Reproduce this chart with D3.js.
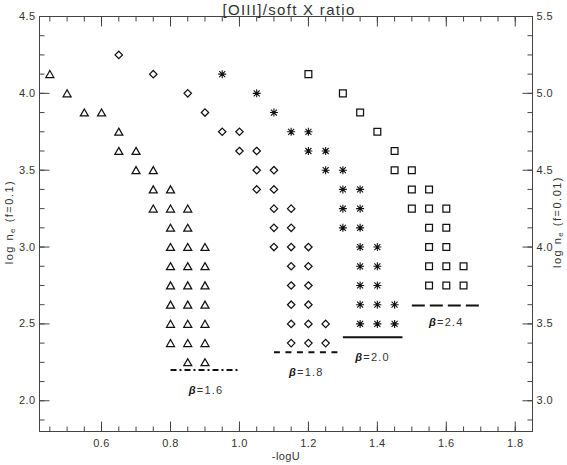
<!DOCTYPE html>
<html><head><meta charset="utf-8">
<script src="https://cdn.jsdelivr.net/npm/d3@7"></script>
<style>
html,body{margin:0;padding:0;background:#fff;}
svg{display:block;}
</style></head><body>
<svg id="chart" width="567" height="465"></svg>
<script>
// ---------------- data ----------------
const xDomain = [0.42, 1.85];
const yDomain = [1.8, 4.5];
const y2Domain = [2.8, 5.5];
const xMajorTicks = [0.6, 0.8, 1.0, 1.2, 1.4, 1.6, 1.8];
const yMajorTicks = [2.0, 2.5, 3.0, 3.5, 4.0, 4.5];
const y2MajorTicks = [3.0, 3.5, 4.0, 4.5, 5.0, 5.5];

const titleText = "[OIII]/soft X ratio";
const xLabel = "-logU";

// rows: [log n_e, [ -logU values ]]
const beta16 = [
  [4.125, [0.45]], [4.0, [0.5]], [3.875, [0.55, 0.6]], [3.75, [0.65]],
  [3.625, [0.65, 0.7]], [3.5, [0.7, 0.75]], [3.375, [0.75, 0.8]],
  [3.25, [0.75, 0.8, 0.85]], [3.125, [0.8, 0.85]], [3.0, [0.8, 0.85, 0.9]],
  [2.875, [0.8, 0.85, 0.9]], [2.75, [0.8, 0.85, 0.9]], [2.625, [0.8, 0.85, 0.9]],
  [2.5, [0.8, 0.85, 0.9]], [2.375, [0.8, 0.85, 0.9]], [2.25, [0.85, 0.9]]
];
const beta18 = [
  [4.25, [0.65]], [4.125, [0.75]], [4.0, [0.85]], [3.875, [0.9]],
  [3.75, [0.95, 1.0]], [3.625, [1.0, 1.05]], [3.5, [1.05, 1.1]], [3.375, [1.05, 1.1]],
  [3.25, [1.1, 1.15]], [3.125, [1.1, 1.15]], [3.0, [1.1, 1.15, 1.2]],
  [2.875, [1.15, 1.2]], [2.75, [1.15, 1.2]], [2.625, [1.15, 1.2]],
  [2.5, [1.15, 1.2, 1.25]], [2.375, [1.15, 1.2, 1.25]]
];
const beta20 = [
  [4.125, [0.95]], [4.0, [1.05]], [3.875, [1.1]], [3.75, [1.15, 1.2]],
  [3.625, [1.2, 1.25]], [3.5, [1.25, 1.3]], [3.375, [1.3, 1.35]], [3.25, [1.3, 1.35]],
  [3.125, [1.3, 1.35]], [3.0, [1.35, 1.4]], [2.875, [1.35, 1.4]], [2.75, [1.35, 1.4]],
  [2.625, [1.35, 1.4, 1.45]], [2.5, [1.35, 1.4, 1.45]]
];
const beta24 = [
  [4.125, [1.2]], [4.0, [1.3]], [3.875, [1.35]], [3.75, [1.4]], [3.625, [1.45]],
  [3.5, [1.45, 1.5]], [3.375, [1.5, 1.55]], [3.25, [1.5, 1.55, 1.6]],
  [3.125, [1.55, 1.6]], [3.0, [1.55, 1.6]], [2.875, [1.55, 1.6, 1.65]],
  [2.75, [1.55, 1.6, 1.65]]
];

const betaNames = ["1.6", "1.8", "2.0", "2.4"];
const lineX0 = [0.8, 1.1, 1.3, 1.5];
const lineX1 = [1.0, 1.3, 1.473, 1.7];
const lineY = [2.2, 2.316, 2.413, 2.62];
const labelX = [0.903, 1.194, 1.386, 1.6];
const labelY = [2.047, 2.162, 2.258, 2.487];

// ---------------- drawing ----------------
const svg = d3.select("#chart");
const L = 39.5, R = 532.5, T = 16.5, B = 431.5;
const FONT = "'Liberation Sans', Arial, sans-serif";

const x = d3.scaleLinear().domain(xDomain).range([L, R]);
const y = d3.scaleLinear().domain(yDomain).range([B, T]);
const y2 = d3.scaleLinear().domain(y2Domain).range([B, T]);

const xMinor = d3.range(0.45, 1.851, 0.05).map(v => +v.toFixed(2));
const yMinor = d3.range(1.875, 4.51, 0.125);
const y2Minor = d3.range(2.875, 5.51, 0.125);

function styleAxis(g) {
  g.select(".domain").attr("stroke", "#444").attr("stroke-width", 1);
  g.selectAll(".tick line").attr("stroke", "#444").attr("stroke-width", 1);
  g.selectAll(".tick text").attr("fill", "#333").style("font-family", FONT)
    .style("font-size", "11px").style("letter-spacing", "0.4px");
}

// bottom
svg.append("g").attr("transform", `translate(0,${B})`)
  .call(d3.axisBottom(x).tickValues(xMinor).tickSize(-5).tickSizeOuter(0).tickFormat("").offset(0))
  .call(styleAxis);
svg.append("g").attr("transform", `translate(0,${B})`)
  .call(d3.axisBottom(x).tickValues(xMajorTicks).tickSize(-10).tickSizeOuter(0).tickPadding(8)
    .tickFormat(d3.format(".1f")).offset(0))
  .call(styleAxis);
// top
svg.append("g").attr("transform", `translate(0,${T})`)
  .call(d3.axisTop(x).tickValues(xMinor).tickSize(-5).tickSizeOuter(0).tickFormat("").offset(0))
  .call(styleAxis);
svg.append("g").attr("transform", `translate(0,${T})`)
  .call(d3.axisTop(x).tickValues(xMajorTicks).tickSize(-10).tickSizeOuter(0).tickFormat("").offset(0))
  .call(styleAxis);
// left
svg.append("g").attr("transform", `translate(${L},0)`)
  .call(d3.axisLeft(y).tickValues(yMinor).tickSize(-5).tickSizeOuter(0).tickFormat("").offset(0))
  .call(styleAxis);
svg.append("g").attr("transform", `translate(${L},0)`)
  .call(d3.axisLeft(y).tickValues(yMajorTicks).tickSize(-10).tickSizeOuter(0).tickPadding(4)
    .tickFormat(d3.format(".1f")).offset(0))
  .call(styleAxis);
// right
svg.append("g").attr("transform", `translate(${R},0)`)
  .call(d3.axisRight(y2).tickValues(y2Minor).tickSize(-5).tickSizeOuter(0).tickFormat("").offset(0))
  .call(styleAxis);
svg.append("g").attr("transform", `translate(${R},0)`)
  .call(d3.axisRight(y2).tickValues(y2MajorTicks).tickSize(-10).tickSizeOuter(0).tickPadding(4)
    .tickFormat(d3.format(".1f")).offset(0))
  .call(styleAxis);

// title
svg.append("text").attr("x", 289).attr("y", 14.5).attr("text-anchor", "middle")
  .attr("fill", "#333").style("font-family", FONT).style("font-size", "15px")
  .style("letter-spacing", "1.3px").text(titleText);

// x label
svg.append("text").attr("x", (L + R) / 2).attr("y", 459.5).attr("text-anchor", "middle")
  .attr("fill", "#333").style("font-family", FONT).style("font-size", "11px")
  .style("letter-spacing", "0.4px").text(xLabel);

// y labels
function yLabel(cx, cy, fText) {
  const t = svg.append("text").attr("transform", `translate(${cx},${cy}) rotate(-90)`)
    .attr("text-anchor", "middle").attr("fill", "#333")
    .style("font-family", FONT).style("font-size", "11px").style("letter-spacing", "1.5px");
  t.append("tspan").text("log n");
  t.append("tspan").attr("dy", 2.5).style("font-size", "8px").text("e");
  t.append("tspan").attr("dy", -2.5).text(" " + fText);
}
yLabel(12.5, 222, "(f=0.1)");
yLabel(560.5, 222, "(f=0.01)");

// markers
const shapes = {
  triangle: "M0,-3.6L4,3.4L-4,3.4Z",
  diamond: "M0,-3.7L3.7,0L0,3.7L-3.7,0Z",
  square: "M-3.4,-3.4H3.4V3.4H-3.4Z",
  asterisk: "M0,-4V4M-4,0H4M-3,-3L3,3M-3,3L3,-3"
};
function drawSeries(rows, shape, sw) {
  const pts = [];
  rows.forEach(([ne, us]) => us.forEach(u => pts.push([u, ne])));
  svg.append("g").selectAll("path").data(pts).join("path")
    .attr("transform", d => `translate(${x(d[0])},${y(d[1])})`)
    .attr("d", shapes[shape]).attr("fill", "none").attr("stroke", "#111")
    .attr("stroke-width", sw).attr("stroke-linejoin", "miter");
}
drawSeries(beta16, "triangle", 1.25);
drawSeries(beta18, "diamond", 1.25);
drawSeries(beta20, "asterisk", 1.1);
drawSeries(beta24, "square", 1.25);

// beta lines and labels
const dashes = ["6,3,2,3", "6,5.5", null, "13,5"];
betaNames.forEach((b, i) => {
  const ln = svg.append("line")
    .attr("x1", x(lineX0[i])).attr("x2", x(lineX1[i]))
    .attr("y1", y(lineY[i])).attr("y2", y(lineY[i]))
    .attr("stroke", "#111").attr("stroke-width", 2);
  if (dashes[i]) ln.attr("stroke-dasharray", dashes[i]);
  const t = svg.append("text").attr("x", x(labelX[i])).attr("y", y(labelY[i]))
    .attr("text-anchor", "middle").attr("fill", "#333")
    .style("font-family", FONT).style("font-size", "11px").style("letter-spacing", "1.2px");
  t.append("tspan").style("font-weight", "bold").style("font-style", "italic").attr("fill", "#111").text("β");
  t.append("tspan").text("=" + b);
});
</script>
</body></html>
